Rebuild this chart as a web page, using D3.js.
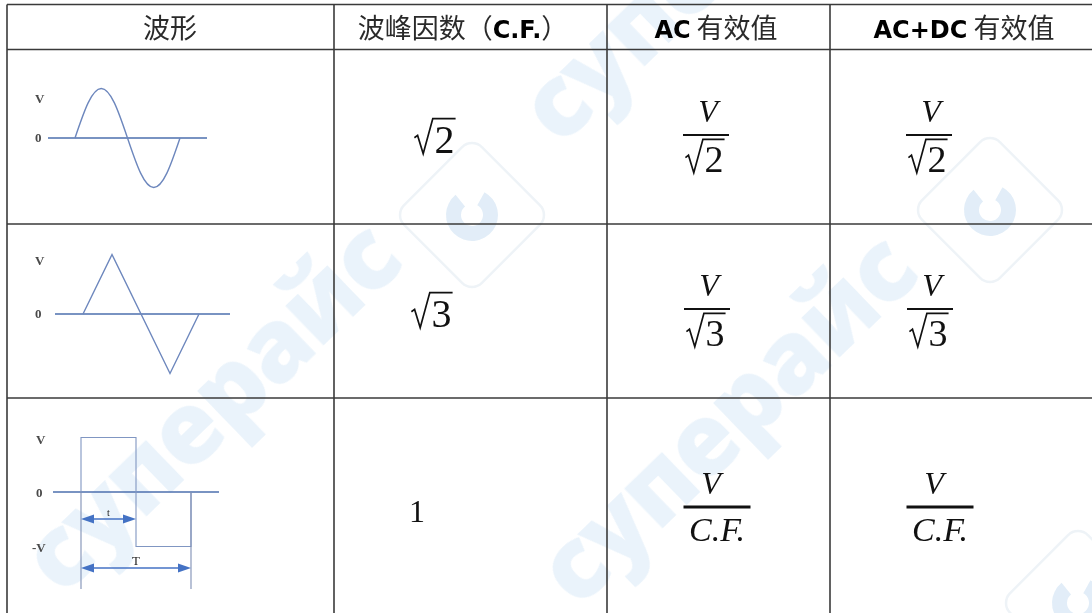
<!DOCTYPE html>
<html><head><meta charset="utf-8">
<script src="https://cdn.jsdelivr.net/npm/d3@7"></script>
<style>html,body{margin:0;padding:0;background:#fff;}svg{display:block;}</style>
</head><body>
<svg id="c" width="1092" height="613"></svg>
<script>
// ---------- data ----------
const headers = [
  [["波形", false]],
  [["波峰因数（", false], ["C.F.", true], ["）", false]],
  [["AC", true], [" 有效值", false]],
  [["AC+DC", true], [" 有效值", false]]
];
// waveform sample points (normalized time, normalized voltage)
const sineT = [0, 0.125, 0.25, 0.375, 0.5, 0.625, 0.75, 0.875, 1];
const sineV = [0, 0.71, 1, 0.71, 0, -0.71, -1, -0.71, 0];
const triT = [0, 0.25, 0.75, 1];
const triV = [0, 1, -1, 0];
const sqT = [0, 0, 0.5, 0.5, 1, 1];
const sqV = [0, 1, 1, -1, -1, 0];
const axisLabels = [["V", "0"], ["V", "0"], ["V", "0", "-V"]];
// crest factor column ("√n" means square root)
const crestFactor = ["√2", "√3", "1"];
// RMS formulas: numerator / denominator
const acNum = ["V", "V", "V"];
const acDen = ["√2", "√3", "C.F."];
const acdcNum = ["V", "V", "V"];
const acdcDen = ["√2", "√3", "C.F."];

// ---------- layout ----------
const svg = d3.select("#c");
const colX = [7, 334, 607, 830, 1092];
const rowY = [4.5, 49.5, 224, 398, 613];
const CJK = "'Noto Sans CJK SC','Noto Sans',sans-serif";
const SERIF = "'Liberation Serif','DejaVu Serif',serif";

// watermark (faint)
const wm = svg.append("g").attr("fill", "#dcebf8").attr("opacity", 0.6);
[[62, 598], [578, 610], [560, 148]].forEach(([x, y], i) => {
  wm.append("text").attr("transform", `translate(${x},${y}) rotate(-44)`)
    .attr("font-family", "'Open Sans',sans-serif").attr("font-weight", 800)
    .attr("font-size", 100).attr("letter-spacing", -2)
    .text(i === 2 ? "супе" : "суперайс");
});
[[472, 215], [990, 210], [1078, 603]].forEach(([x, y]) => {
  const g = wm.append("g").attr("transform", `translate(${x},${y})`);
  g.append("rect").attr("x", -55).attr("y", -55).attr("width", 110).attr("height", 110)
    .attr("rx", 14).attr("transform", "rotate(45)").attr("fill", "none")
    .attr("stroke", "#e3ebf2").attr("stroke-width", 2.5);
  g.append("path").attr("d", d3.arc().innerRadius(11).outerRadius(26).startAngle(0.5).endAngle(5.6)())
    .attr("fill", "#cfe2f3");
});

// grid lines
const grid = svg.append("g").attr("stroke", "#3a3a3a").attr("stroke-width", 1.6);
rowY.slice(0, 4).forEach(y => grid.append("line").attr("x1", colX[0]).attr("x2", 1092).attr("y1", y).attr("y2", y));
colX.slice(0, 4).forEach(x => grid.append("line").attr("x1", x).attr("x2", x).attr("y1", rowY[0]).attr("y2", 613));

// headers
const hdrCx = [170, 463, 716, 964];
headers.forEach((parts, i) => {
  const t = svg.append("text").attr("x", hdrCx[i]).attr("y", 38).attr("text-anchor", "middle")
    .attr("font-family", CJK).attr("font-size", 27).attr("fill", "#222");
  parts.forEach(([s, b]) => t.append("tspan").text(s)
    .attr("font-weight", b ? 700 : 400)
    .attr("font-family", b ? "'DejaVu Sans','Noto Sans',sans-serif" : CJK)
    .attr("font-size", b ? 24 : 27)
    .attr("fill", b ? "#000" : "#2a2a2a"));
});

// ---------- waveforms ----------
const waves = [
  {t: sineT, v: sineV, x0: 75, x1: 180, zero: 138, amp: 49.5, ax: [48, 207], curve: d3.curveNatural, lblY: [103, 142]},
  {t: triT, v: triV, x0: 83, x1: 199, zero: 314, amp: 59.5, ax: [55, 230], curve: d3.curveLinear, lblY: [265, 318]},
  {t: sqT, v: sqV, x0: 81, x1: 191, zero: 492, amp: 54.5, ax: [53, 219], curve: d3.curveLinear, lblY: [444, 497, 552]}
];
waves.forEach((w, i) => {
  const x = d3.scaleLinear().domain([0, 1]).range([w.x0, w.x1]);
  const y = d3.scaleLinear().domain([-1, 1]).range([w.zero + w.amp, w.zero - w.amp]);
  const g = svg.append("g");
  g.append("line").attr("x1", w.ax[0]).attr("x2", w.ax[1]).attr("y1", y(0)).attr("y2", y(0))
    .attr("stroke", "#4d6fae").attr("stroke-width", 1.5);
  const line = d3.line().x((d, k) => x(w.t[k])).y(d => y(d)).curve(w.curve);
  g.append("path").attr("d", line(w.v)).attr("fill", "none")
    .attr("stroke", i === 2 ? "#8096c2" : "#6d87bd").attr("stroke-width", i === 2 ? 1.1 : 1.4);
  axisLabels[i].forEach((s, k) => {
    g.append("text").attr("x", s === "-V" ? 32 : (i === 2 ? 36 : 35)).attr("y", w.lblY[k])
      .attr("font-family", SERIF).attr("font-weight", 700).attr("font-size", 13)
      .attr("fill", "#4a4a4a").text(s);
  });
  if (i === 2) {
    const blue = "#4472c4";
    const yb = 589;
    [0, 1].forEach(tt => g.append("line").attr("x1", x(tt)).attr("x2", x(tt)).attr("y1", y(0)).attr("y2", yb)
      .attr("stroke", "#7f8fb5").attr("stroke-width", 1.1));
    const arrow = (xa, xb, ya, label) => {
      g.append("line").attr("x1", xa + 10).attr("x2", xb - 10).attr("y1", ya).attr("y2", ya)
        .attr("stroke", blue).attr("stroke-width", 1.6);
      g.append("path").attr("d", `M${xa},${ya}L${xa + 13},${ya - 4.5}L${xa + 13},${ya + 4.5}Z`).attr("fill", blue);
      g.append("path").attr("d", `M${xb},${ya}L${xb - 13},${ya - 4.5}L${xb - 13},${ya + 4.5}Z`).attr("fill", blue);
      g.append("text").attr("x", (xa + xb) / 2).attr("y", ya - 3).attr("text-anchor", "middle")
        .attr("font-family", SERIF).attr("font-size", label === "t" ? 10 : 13).attr("fill", "#222").text(label);
    };
    arrow(x(0), x(0.5), 519, "t");
    arrow(x(0), x(1), 568, "T");
  }
});

// ---------- math helpers ----------
function drawRoot(g, xLeft, base, digit, f) {
  const dx = xLeft + 0.5 * f;
  const t = g.append("text").attr("x", dx).attr("y", base).attr("font-family", SERIF)
    .attr("font-size", f).attr("fill", "#111").text(digit);
  const dw = t.node().getComputedTextLength();
  const top = base - 0.86 * f;
  g.append("path").attr("d",
    `M${xLeft},${base - 0.38 * f}L${xLeft + 0.08 * f},${base - 0.44 * f}L${xLeft + 0.22 * f},${base + 0.02 * f}L${xLeft + 0.46 * f},${top}L${dx + dw + 0.03 * f},${top}`)
    .attr("fill", "none").attr("stroke", "#111").attr("stroke-width", 1.7).attr("stroke-linejoin", "miter");
}
function drawTerm(g, cx, base, s, f, italic) {
  if (s.startsWith("√")) {
    const w = 0.5 * f + 0.5 * f + 0.03 * f;
    drawRoot(g, cx - w / 2, base, s.slice(1), f);
  } else {
    g.append("text").attr("x", cx).attr("y", base).attr("text-anchor", "middle")
      .attr("font-family", SERIF).attr("font-style", italic ? "italic" : "normal")
      .attr("font-size", f).attr("fill", "#111").text(s);
  }
}
function drawFraction(g, cx, barY, num, den, barW, numDx) {
  drawTerm(g, cx + numDx, barY - 13, num, 32, true);
  g.append("line").attr("x1", cx - barW / 2).attr("x2", cx + barW / 2).attr("y1", barY).attr("y2", barY)
    .attr("stroke", "#111").attr("stroke-width", den.startsWith("√") ? 2.2 : 3);
  if (den.startsWith("√")) drawTerm(g, cx - 1, barY + 37, den, 38, false);
  else drawTerm(g, cx, barY + 34, den, 34, true);
}

// crest factor column
const cfPos = [[435, 153], [432, 327], [417, 522]];
crestFactor.forEach((s, i) => drawTerm(svg.append("g"), cfPos[i][0], cfPos[i][1], s, s.startsWith("√") ? 40 : 32, false));

// AC and AC+DC columns
const barY = [135, 309, 507];
const acCx = [706, 707, 717];
const acdcCx = [929, 930, 940];
acNum.forEach((n, i) => drawFraction(svg.append("g"), acCx[i], barY[i], n, acDen[i], i === 2 ? 67 : 46, i === 2 ? -6 : 2));
acdcNum.forEach((n, i) => drawFraction(svg.append("g"), acdcCx[i], barY[i], n, acdcDen[i], i === 2 ? 67 : 46, i === 2 ? -6 : 2));
</script>
</body></html>
